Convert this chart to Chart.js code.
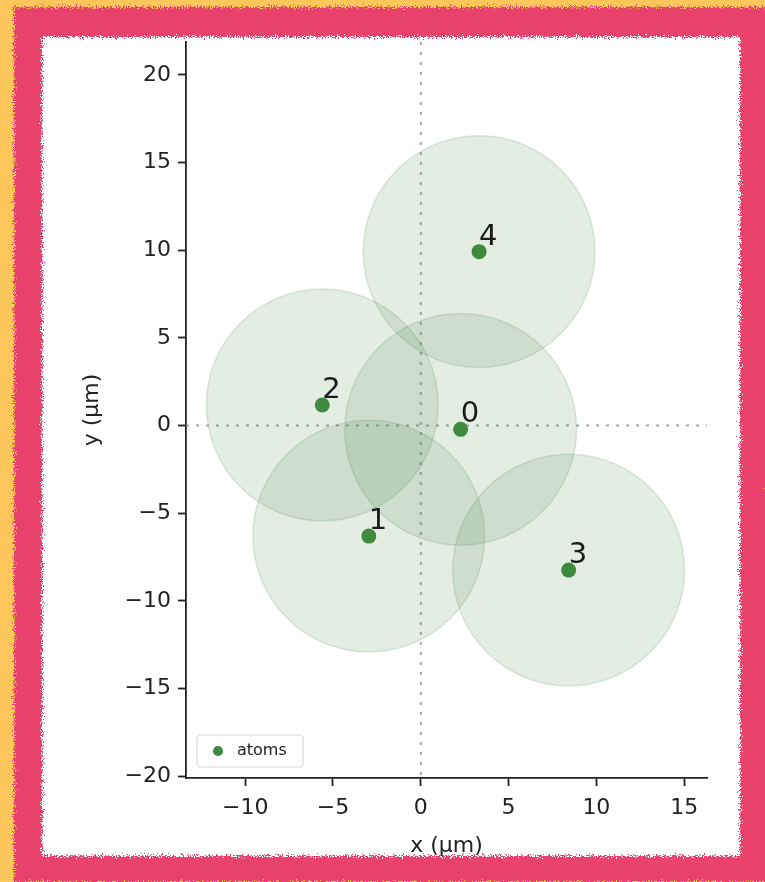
<!DOCTYPE html>
<html>
<head>
<meta charset="utf-8">
<script src="https://cdn.jsdelivr.net/npm/chart.js@4.4.1/dist/chart.umd.min.js"></script>
<style>
  html, body { margin: 0; padding: 0; }
  body { width: 765px; height: 882px; background: #fdc65b; position: relative; overflow: hidden; font-family: "DejaVu Sans", sans-serif; }
  #sheet { position: absolute; left: 24px; top: 18px; width: 730px; height: 852px; background: #ffffff; }
  #wrap { position: absolute; left: 0; top: 0; width: 765px; height: 882px; }
  #frame { position: absolute; left: 0; top: 0; pointer-events: none; }
</style>
</head>
<body>
<div id="sheet"></div>
<div id="wrap"><canvas id="c" width="765" height="882"></canvas></div>
<svg id="frame" width="765" height="882">
  <defs>
    <filter id="rough" x="-5%" y="-5%" width="110%" height="110%">
      <feTurbulence type="fractalNoise" baseFrequency="0.85" numOctaves="2" seed="7" result="noise"/>
      <feDisplacementMap in="SourceGraphic" in2="noise" scale="11" xChannelSelector="R" yChannelSelector="G"/>
    </filter>
  </defs>
  <path fill="#e8436d" fill-rule="evenodd" filter="url(#rough)"
        d="M14 7 H768 V882 H14 Z M42 37 V856 H740 V37 Z"/>
</svg>
<script>
// Atom register: index labels and positions (µm)
const atomIds = ['0', '1', '2', '3', '4'];
const atomX = [2.27, -2.96, -5.61, 8.42, 3.32];
const atomY = [-0.22, -6.31, 1.17, -8.25, 9.92];
// Blockade radius drawn around every atom (µm)
const blockadeRadius = 6.6;

// Axis limits and tick values (µm)
const xLimits = [-13.37, 16.3];
const yLimits = [-20.11, 21.88];
const xTickValues = [-10, -5, 0, 5, 10, 15];
const yTickValues = [-20, -15, -10, -5, 0, 5, 10, 15, 20];

const INK = '#222222';
const ATOM_GREEN = '#3e8a3e';
const FONT = 'DejaVu Sans';

const fmtTick = v => (v < 0 ? '\u2212' + Math.abs(v) : String(v));
const atomPoints = atomX.map((x, i) => ({ x: x, y: atomY[i] }));

// Radius in pixels of the blockade disc, taken from the x scale
function blockadePixels(ctx) {
  const s = ctx.chart.scales && ctx.chart.scales.x;
  if (!s) return 0;
  const r = Math.abs(s.getPixelForValue(blockadeRadius) - s.getPixelForValue(0));
  return isFinite(r) ? r : 0;
}

// Dotted lines through the origin
const originLines = {
  id: 'originLines',
  beforeDatasetsDraw(chart) {
    const { ctx, chartArea: a, scales: { x, y } } = chart;
    const x0 = x.getPixelForValue(0), y0 = y.getPixelForValue(0);
    ctx.save();
    ctx.strokeStyle = 'rgba(140,140,140,0.75)';
    ctx.lineWidth = 2;
    ctx.setLineDash([3, 7]);
    ctx.beginPath();
    ctx.moveTo(x0, a.top); ctx.lineTo(x0, a.bottom);
    ctx.moveTo(a.left, y0); ctx.lineTo(a.right, y0);
    ctx.stroke();
    ctx.restore();
  }
};

// Index numbers next to each atom
const atomLabels = {
  id: 'atomLabels',
  afterDatasetsDraw(chart) {
    const { ctx, scales: { x, y } } = chart;
    ctx.save();
    ctx.font = '29px "' + FONT + '"';
    ctx.fillStyle = '#1a1a1a';
    ctx.textAlign = 'left';
    ctx.textBaseline = 'alphabetic';
    atomIds.forEach((id, i) => {
      ctx.fillText(id, x.getPixelForValue(atomX[i]), y.getPixelForValue(atomY[i]) - 7);
    });
    ctx.restore();
  }
};

// Legend box in the lower-left corner of the plot area
const cornerLegend = {
  id: 'cornerLegend',
  afterDraw(chart) {
    const { ctx, chartArea: a } = chart;
    const bx = a.left + 11, by = a.bottom - 43, bw = 106, bh = 32;
    ctx.save();
    ctx.beginPath();
    ctx.roundRect(bx, by, bw, bh, 4);
    ctx.fillStyle = 'rgba(255,255,255,0.8)';
    ctx.fill();
    ctx.strokeStyle = '#d9d9d9';
    ctx.lineWidth = 1.2;
    ctx.stroke();
    ctx.beginPath();
    ctx.arc(bx + 21, by + 16, 5, 0, Math.PI * 2);
    ctx.fillStyle = ATOM_GREEN;
    ctx.fill();
    ctx.font = '16px "' + FONT + '"';
    ctx.fillStyle = INK;
    ctx.textBaseline = 'middle';
    ctx.fillText(chart.data.datasets[0].label, bx + 40, by + 16);
    ctx.restore();
  }
};

const tickFont = { family: FONT, size: 22 };

new Chart(document.getElementById('c'), {
  type: 'scatter',
  data: {
    datasets: [
      {
        label: 'atoms',
        data: atomPoints,
        order: 0,
        pointRadius: 7.5,
        pointBackgroundColor: ATOM_GREEN,
        pointBorderColor: ATOM_GREEN,
        pointBorderWidth: 0
      },
      {
        label: 'blockade',
        data: atomPoints,
        order: 1,
        pointRadius: blockadePixels,
        pointBackgroundColor: 'rgba(62,128,62,0.14)',
        pointBorderColor: 'rgba(62,120,62,0.16)',
        pointBorderWidth: 1.5
      }
    ]
  },
  options: {
    responsive: false,
    devicePixelRatio: 1,
    animation: false,
    events: [],
    layout: { padding: { left: 79, top: 42, right: 58, bottom: 23 } },
    plugins: { legend: { display: false }, tooltip: { enabled: false } },
    scales: {
      x: {
        type: 'linear',
        min: xLimits[0],
        max: xLimits[1],
        afterBuildTicks: s => { s.ticks = xTickValues.map(v => ({ value: v })); },
        afterFit: s => { s.height = 81; },
        grid: { drawOnChartArea: false, drawTicks: true, tickLength: 8, tickWidth: 1.8, tickColor: INK },
        border: { display: true, color: INK, width: 1.8 },
        ticks: { font: tickFont, color: INK, padding: 9, maxRotation: 0, autoSkip: false, callback: fmtTick },
        title: { display: true, text: 'x (µm)', font: tickFont, color: INK, padding: 0 }
      },
      y: {
        type: 'linear',
        min: yLimits[0],
        max: yLimits[1],
        afterBuildTicks: s => { s.ticks = yTickValues.map(v => ({ value: v })); },
        afterFit: s => { s.width = 107; },
        grid: { drawOnChartArea: false, drawTicks: true, tickLength: 8, tickWidth: 1.8, tickColor: INK },
        border: { display: true, color: INK, width: 1.8 },
        ticks: { font: tickFont, color: INK, padding: 7, autoSkip: false, callback: fmtTick },
        title: { display: true, text: 'y (µm)', font: tickFont, color: INK, padding: 0 }
      }
    }
  },
  plugins: [originLines, atomLabels, cornerLegend]
});
</script>
</body>
</html>
